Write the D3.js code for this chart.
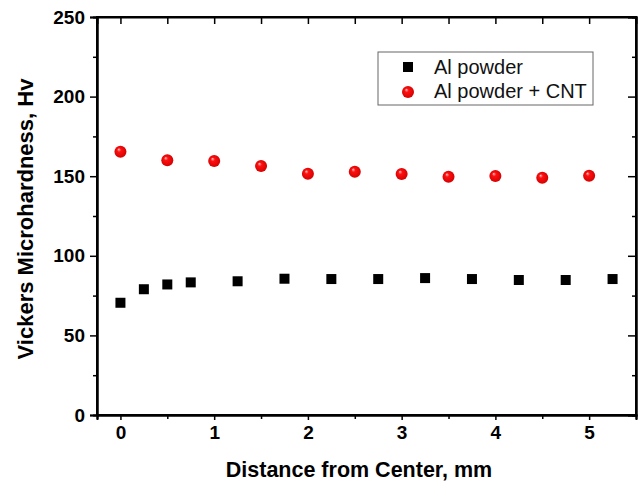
<!DOCTYPE html>
<html>
<head>
<meta charset="utf-8">
<script src="https://cdn.jsdelivr.net/npm/d3@7"></script>
<style>
  body { margin: 0; background: #fff; }
  text { font-family: "Liberation Sans", Arial, sans-serif; }
</style>
</head>
<body>
<div id="chart"></div>
<script>
// data
var alX = [0, 0.25, 0.5, 0.75, 1.25, 1.75, 2.25, 2.75, 3.25, 3.75, 4.25, 4.75, 5.25];
var alY = [70.5, 79, 82, 83.3, 84, 85.6, 85.4, 85.4, 86, 85.4, 84.8, 84.8, 85.4];
var cntX = [0, 0.5, 1, 1.5, 2, 2.5, 3, 3.5, 4, 4.5, 5];
var cntY = [165.4, 160, 159.5, 156.4, 151.6, 152.8, 151.4, 149.7, 150.1, 149, 150.3];
var xTicks = [0, 1, 2, 3, 4, 5];
var yTicks = [0, 50, 100, 150, 200, 250];
var seriesNames = ["Al powder", "Al powder + CNT"];

var svgWidth = 638;
var svgHeight = 481;
var margin = { top: 17, right: 2, bottom: 66, left: 97 };
var width = svgWidth - margin.left - margin.right;
var height = svgHeight - margin.top - margin.bottom;

var svg = d3.select("#chart")
  .append("svg")
  .attr("width", svgWidth)
  .attr("height", svgHeight);

// sphere look for the red markers
var grad = svg.append("defs").append("radialGradient")
  .attr("id", "ball")
  .attr("cx", "50%").attr("cy", "50%").attr("r", "55%")
  .attr("fx", "35%").attr("fy", "30%");
grad.append("stop").attr("offset", "0%").attr("stop-color", "#ffc8c8");
grad.append("stop").attr("offset", "30%").attr("stop-color", "#ff1010");
grad.append("stop").attr("offset", "100%").attr("stop-color", "#d00000");

var chartGroup = svg.append("g")
  .attr("transform", `translate(${margin.left}, ${margin.top})`);

var x = d3.scaleLinear().domain([-0.25, 5.5]).range([0, width]);
var y = d3.scaleLinear().domain([0, 250]).range([height, 0]);

var halfX = d3.range(0, 5.01, 0.5);
var minorY = d3.range(25, 250, 50);

// bottom axis, ticks outward
chartGroup.append("g")
  .attr("transform", `translate(0, ${height})`)
  .call(d3.axisBottom(x).tickValues(xTicks).tickSize(5).tickPadding(6).tickFormat(d3.format("d")));
chartGroup.append("g")
  .attr("transform", `translate(0, ${height})`)
  .call(d3.axisBottom(x).tickValues(halfX.filter(d => d % 1 !== 0)).tickSize(4).tickFormat(""));

// top axis, ticks inward
chartGroup.append("g")
  .call(d3.axisTop(x).tickValues(halfX).tickSize(-7).tickFormat(""));

// left axis, ticks outward
chartGroup.append("g")
  .call(d3.axisLeft(y).tickValues(yTicks).tickSize(7).tickPadding(5));
chartGroup.append("g")
  .call(d3.axisLeft(y).tickValues(minorY).tickSize(4).tickFormat(""));

// right axis, ticks inward
chartGroup.append("g")
  .attr("transform", `translate(${width}, 0)`)
  .call(d3.axisRight(y).tickValues(yTicks).tickSize(-8).tickFormat(""));
chartGroup.append("g")
  .attr("transform", `translate(${width}, 0)`)
  .call(d3.axisRight(y).tickValues(minorY).tickSize(-4).tickFormat(""));

chartGroup.selectAll(".domain").attr("stroke", "#000").attr("stroke-width", 2);
chartGroup.selectAll(".tick line").attr("stroke", "#000").attr("stroke-width", 1.5);
chartGroup.selectAll(".tick text")
  .attr("fill", "#000")
  .style("font-size", "19px")
  .style("font-weight", "bold");

// frame lines (domain paths skip the corners)
chartGroup.append("rect")
  .attr("width", width)
  .attr("height", height)
  .attr("fill", "none")
  .attr("stroke", "#000")
  .attr("stroke-width", 2);

// axis titles
chartGroup.append("text")
  .attr("x", 262)
  .attr("y", height + 62)
  .attr("text-anchor", "middle")
  .style("font-size", "21.5px")
  .style("font-weight", "bold")
  .text("Distance from Center, mm");

chartGroup.append("text")
  .attr("transform", "rotate(-90)")
  .attr("x", -(219 - margin.top))
  .attr("y", -64)
  .attr("text-anchor", "middle")
  .style("font-size", "22px")
  .style("font-weight", "bold")
  .text("Vickers Microhardness, Hv");

// Al powder squares
var sq = 10;
chartGroup.append("g")
  .selectAll("rect")
  .data(alX.map((d, i) => [d, alY[i]]))
  .enter()
  .append("rect")
  .attr("x", d => x(d[0]) - sq / 2)
  .attr("y", d => y(d[1]) - sq / 2)
  .attr("width", sq)
  .attr("height", sq)
  .attr("fill", "#000");

// Al powder + CNT spheres
chartGroup.append("g")
  .selectAll("circle")
  .data(cntX.map((d, i) => [d, cntY[i]]))
  .enter()
  .append("circle")
  .attr("cx", d => x(d[0]))
  .attr("cy", d => y(d[1]))
  .attr("r", 6)
  .attr("fill", "url(#ball)");

// legend
var legend = svg.append("g").attr("transform", "translate(378, 52)");
legend.append("rect")
  .attr("width", 215)
  .attr("height", 53)
  .attr("fill", "#fff")
  .attr("stroke", "#666")
  .attr("stroke-width", 1);
legend.append("rect")
  .attr("x", 25).attr("y", 10)
  .attr("width", sq).attr("height", sq)
  .attr("fill", "#000");
legend.append("circle")
  .attr("cx", 30).attr("cy", 40)
  .attr("r", 6)
  .attr("fill", "url(#ball)");
legend.selectAll("text.lab")
  .data(seriesNames)
  .enter()
  .append("text")
  .attr("class", "lab")
  .attr("x", 56)
  .attr("y", (d, i) => 22 + i * 24)
  .style("font-size", "20px")
  .attr("fill", "#111")
  .text(d => d);
</script>
</body>
</html>
